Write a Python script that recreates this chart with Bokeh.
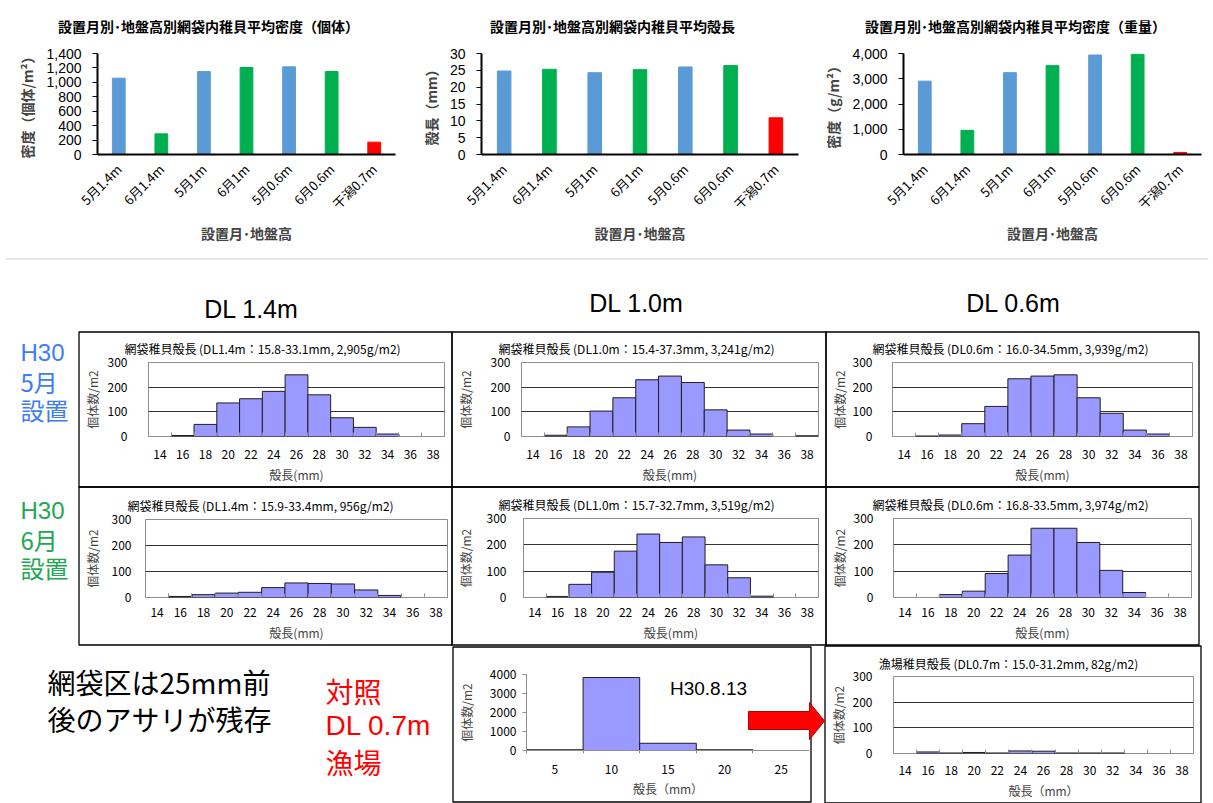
from math import pi

from bokeh.core.properties import value
from bokeh.embed import file_html
from bokeh.models import (ColumnDataSource, FactorRange, FixedTicker,
                          NumeralTickFormatter, Range1d)
from bokeh.plotting import figure
from bokeh.resources import INLINE

JP = "Noto Sans CJK JP"
LAT = "Liberation Sans"
PAGE_W, PAGE_H = 1213, 803

# ---------------------------------------------------------------- data
sites = ["5月1.4m", "6月1.4m", "5月1m", "6月1m", "5月0.6m", "6月0.6m", "干潟0.7m"]
site_colors = ["#5B9BD5", "#00B050", "#5B9BD5", "#00B050", "#5B9BD5", "#00B050", "#FF0000"]
density_count = [1058, 286, 1150, 1206, 1215, 1150, 171]        # 個体/m2
mean_length = [24.8, 25.3, 24.3, 25.2, 26.0, 26.4, 10.9]        # mm
density_weight = [2905, 956, 3241, 3519, 3939, 3974, 82]        # g/m2

# shell-length classes (2 mm bins) and counts per m2
size_classes = [14, 16, 18, 20, 22, 24, 26, 28, 30, 32, 34, 36, 38]
hist_may_14 = [0, 4, 49, 136, 153, 183, 250, 169, 76, 37, 10, 0, 0]
hist_may_10 = [0, 5, 39, 103, 157, 230, 245, 219, 108, 26, 10, 0, 3]
hist_may_06 = [0, 2, 6, 52, 122, 234, 245, 250, 157, 94, 26, 10, 0]
hist_jun_14 = [0, 4, 11, 17, 20, 38, 56, 54, 52, 29, 8, 0, 0]
hist_jun_10 = [0, 4, 50, 96, 176, 241, 209, 230, 124, 75, 5, 0, 0]
hist_jun_06 = [0, 0, 11, 24, 91, 161, 263, 263, 209, 103, 19, 0, 0]
hist_flat_07 = [0, 6, 2, 4, 2, 10, 9, 2, 2, 2, 0, 0, 0]

size_ranges = ["15.8-33.1", "15.4-37.3", "16.0-34.5", "15.9-33.4", "15.7-32.7", "16.8-33.5", "15.0-31.2"]

# fishing ground, 2018-08-13 (5 mm bins)
ground_classes = [5, 10, 15, 20, 25]
ground_counts = [40, 3840, 380, 40, 0]


def place(fig, left, top):
    fig.styles = {"position": "absolute", "left": f"{left}px", "top": f"{top}px"}
    return fig


# ---------------------------------------------------------------- page canvas
bg = figure(width=PAGE_W, height=PAGE_H, x_range=Range1d(0, PAGE_W), y_range=Range1d(PAGE_H, 0),
            x_axis_type=None, y_axis_type=None, output_backend="svg", toolbar_location=None,
            min_border=0, outline_line_color=None,
            background_fill_color="white", border_fill_color="white")
bg.grid.visible = False


def note(x, y, text, size, color="black", font=JP, align="left", style="normal"):
    bg.text(x=[x], y=[y], text=[text], text_font=value(font), text_font_size=size,
            text_color=color, text_align=align, text_baseline="middle", text_font_style=style)


# headings of the summary charts
note(208, 25, "設置月別･地盤高別網袋内稚貝平均密度（個体）", "14px", align="center", style="bold")
note(612, 25, "設置月別･地盤高別網袋内稚貝平均殻長", "14px", align="center", style="bold")
note(1015, 25, "設置月別･地盤高別網袋内稚貝平均密度（重量）", "14px", align="center", style="bold")

bg.line(x=[5, 1208], y=[258.5, 258.5], line_color="#d4d4d4", line_width=1)

note(251, 308, "DL 1.4m", "25px", font=LAT, align="center")
note(636, 302, "DL 1.0m", "25px", font=LAT, align="center")
note(1013, 302, "DL 0.6m", "25px", font=LAT, align="center")

BLUE, GREEN = "#3D7EF0", "#22A852"
note(20, 352, "H30", "24px", color=BLUE, font=LAT)
note(20, 381, "5月", "24px", color=BLUE)
note(20, 409, "設置", "24px", color=BLUE)
note(20, 510, "H30", "24px", color=GREEN, font=LAT)
note(20, 539, "6月", "24px", color=GREEN)
note(20, 567, "設置", "24px", color=GREEN)

note(47, 681, "網袋区は25mm前", "28px")
note(47, 718, "後のアサリが残存", "28px")
note(325, 690, "対照", "28px", color="#FF0000")
note(325, 725, "DL 0.7m", "28px", color="#FF0000", font=LAT)
note(325, 761, "漁場", "28px", color="#FF0000")

note(708, 688, "H30.8.13", "19px", font=LAT, align="center")

# panel frames
cells = [(78, 451, 331, 486), (451, 825, 331, 486), (825, 1198, 331, 486),
         (78, 451, 486, 644), (451, 825, 486, 644), (825, 1198, 486, 644),
         (452, 810, 646, 801), (824, 1200, 645, 802)]
bg.quad(left=[c[0] + 0.5 for c in cells], right=[c[1] + 0.5 for c in cells],
        top=[c[2] + 0.5 for c in cells], bottom=[c[3] + 0.5 for c in cells],
        fill_color=None, line_color="black", line_width=1.3)

# arrow pointing to the fishing-ground panel
bg.patch(x=[748, 809, 809, 824, 809, 809, 748], y=[711, 711, 702, 720.5, 739, 729, 729],
         fill_color="#FF0000", line_color="#B00000", line_width=1)

# ---------------------------------------------------------------- summary bar charts
def summary_chart(values, ymax, step, fmt, ylabel, fig_left, fig_w, frame_l, frame_r):
    h = 256
    p = figure(width=fig_w, height=h, x_range=FactorRange(factors=sites), y_range=Range1d(0, ymax),
               output_backend="svg", toolbar_location=None,
               min_border_left=frame_l - fig_left, min_border_right=fig_left + fig_w - frame_r,
               min_border_top=53, min_border_bottom=h - 154,
               background_fill_color=None, border_fill_color=None, outline_line_color=None)
    src = ColumnDataSource(dict(site=sites, v=values, color=site_colors))
    p.vbar(x="site", top="v", width=0.3, fill_color="color", line_color="color", source=src)
    p.grid.visible = False

    xa = p.xaxis[0]
    xa.axis_line_color = "black"
    xa.axis_line_width = 2
    xa.major_tick_line_color = None
    xa.minor_tick_line_color = None
    xa.major_label_orientation = pi / 4
    xa.major_label_text_font = JP
    xa.major_label_text_font_size = "13px"
    xa.major_label_text_color = "black"
    xa.major_label_standoff = 6
    xa.axis_label = "設置月･地盤高"
    xa.axis_label_text_font = JP
    xa.axis_label_text_font_size = "14px"
    xa.axis_label_text_font_style = "bold"
    xa.axis_label_standoff = 0

    ya = p.yaxis[0]
    ya.ticker = FixedTicker(ticks=list(range(0, ymax + 1, step)))
    ya.formatter = NumeralTickFormatter(format=fmt)
    ya.axis_line_color = "black"
    ya.axis_line_width = 2
    ya.major_tick_line_color = "black"
    ya.major_tick_out = 5
    ya.major_tick_in = 0
    ya.minor_tick_line_color = None
    ya.major_label_text_font = LAT
    ya.major_label_text_font_size = "14px"
    ya.major_label_text_color = "black"
    ya.major_label_standoff = 11
    ya.axis_label = ylabel
    ya.axis_label_text_font = JP
    ya.axis_label_text_font_size = "14px"
    ya.axis_label_text_font_style = "bold"
    ya.axis_label_standoff = 6
    return place(p, fig_left, 0)


top1 = summary_chart(density_count, 1400, 200, "0,0", "密度（個体/m²）", 0, 410, 97, 395)
top2 = summary_chart(mean_length, 30, 5, "0", "殻長（mm）", 410, 410, 481, 798)
top3 = summary_chart(density_weight, 4000, 1000, "0,0", "密度（g/m²）", 820, 393, 902, 1201)

# ---------------------------------------------------------------- size histograms
def size_hist(counts, frame, cell, ytick_gap, ylabel_x, xtick_standoff, xlabel="殻長(mm)"):
    fl, fr, ft, fb = frame
    cl, cr, ct, cb = cell
    left, top = cl + 2, ct + 2
    w, h = cr - cl - 3, cb - ct - 3
    p = figure(width=w, height=h, x_range=Range1d(13, 39), y_range=Range1d(0, 300),
               output_backend="svg", toolbar_location=None,
               min_border_left=fl - left, min_border_right=left + w - fr,
               min_border_top=ft - top, min_border_bottom=top + h - fb,
               background_fill_color=None, border_fill_color=None,
               outline_line_color="#8f8f8f", outline_line_width=1)
    shown = [(c, v) for c, v in zip(size_classes, counts) if v > 0]
    src = ColumnDataSource(dict(x=[s[0] for s in shown], top=[s[1] for s in shown]))
    p.vbar(x="x", top="top", bottom=0, width=2, source=src,
           fill_color="#9999FF", line_color="#1f1f1f", line_width=1)

    p.xgrid.visible = False
    p.ygrid.ticker = FixedTicker(ticks=[100, 200])
    p.ygrid.grid_line_color = "#333333"
    p.ygrid.grid_line_width = 1

    xa = p.xaxis[0]
    xa.ticker = FixedTicker(ticks=size_classes, minor_ticks=[c - 1 for c in size_classes] + [39])
    xa.axis_line_color = None
    xa.major_tick_line_color = None
    xa.minor_tick_line_color = "#8f8f8f"
    xa.minor_tick_in = 4
    xa.minor_tick_out = 0
    xa.major_label_text_font = JP
    xa.major_label_text_font_size = "12px"
    xa.major_label_text_color = "black"
    xa.major_label_standoff = xtick_standoff
    xa.axis_label = xlabel
    xa.axis_label_text_font = JP
    xa.axis_label_text_font_size = "12px"
    xa.axis_label_text_font_style = "normal"
    xa.axis_label_standoff = 4

    ya = p.yaxis[0]
    ya.ticker = FixedTicker(ticks=[0, 100, 200, 300])
    ya.axis_line_color = None
    ya.major_tick_line_color = None
    ya.minor_tick_line_color = None
    ya.major_label_text_font = JP
    ya.major_label_text_font_size = "12px"
    ya.major_label_text_color = "black"
    ya.major_label_standoff = ytick_gap
    ya.axis_label = "個体数/m2"
    ya.axis_label_text_font = JP
    ya.axis_label_text_font_size = "12px"
    ya.axis_label_text_font_style = "normal"
    ya.axis_label_standoff = max(0, (fl - ytick_gap - 21) - (ylabel_x + 7))
    return place(p, left, top)


hist_specs = [
    (hist_may_14, "網袋", "DL1.4m", 0, (142, 444, 362, 440), 0, 15, 95, 7, (262, 348)),
    (hist_may_10, "網袋", "DL1.0m", 2, (517, 818, 362, 440), 1, 5, 470, 7, (636, 348)),
    (hist_may_06, "網袋", "DL0.6m", 4, (889, 1192, 362, 440), 2, 14, 845, 7, (1010, 348)),
    (hist_jun_14, "網袋", "DL1.4m", 1, (141, 447, 519, 597), 3, 8, 97, 4, (260, 505)),
    (hist_jun_10, "網袋", "DL1.0m", 3, (517, 818, 518, 597), 4, 11, 468, 4, (636, 504)),
    (hist_jun_06, "網袋", "DL0.6m", 5, (890, 1191, 518, 597), 5, 14, 845, 4, (1010, 504)),
    (hist_flat_07, "漁場", "DL0.7m", 6, (888, 1193, 676, 755), 7, 15, 842, 6, (1008, 663)),
]

hists = []
for i, (counts, kind, level, wi, frame, ci, gap, lx, xs, tpos) in enumerate(hist_specs):
    xlabel = "殻長（mm）" if kind == "漁場" else "殻長(mm)"
    hists.append(size_hist(counts, frame, cells[ci], gap, lx, xs, xlabel))
    title = f"{kind}稚貝殻長 ({level}：{size_ranges[i]}mm, {density_weight[wi]:,}g/m2)"
    note(tpos[0], tpos[1], title, "12px", align="center")

# ---------------------------------------------------------------- fishing ground histogram
def ground_hist():
    fl, fr, ft, fb = 523, 809, 674, 758
    left, top = 454, 648
    w, h = 355, 151
    p = figure(width=w, height=h, x_range=Range1d(2.5, 27.5), y_range=Range1d(0, 4000),
               output_backend="svg", toolbar_location=None,
               min_border_left=fl - left, min_border_right=max(0, left + w - fr),
               min_border_top=ft - top, min_border_bottom=top + h - fb,
               background_fill_color=None, border_fill_color=None, outline_line_color=None)
    src = ColumnDataSource(dict(x=ground_classes, top=ground_counts))
    p.vbar(x="x", top="top", bottom=0, width=5, source=src,
           fill_color="#9999FF", line_color="#1f1f1f", line_width=1)
    p.grid.visible = False

    xa = p.xaxis[0]
    xa.ticker = FixedTicker(ticks=ground_classes,
                            minor_ticks=[c - 2.5 for c in ground_classes] + [27.5])
    xa.axis_line_color = "#8f8f8f"
    xa.major_tick_line_color = None
    xa.minor_tick_line_color = "#8f8f8f"
    xa.minor_tick_in = 0
    xa.minor_tick_out = 3
    xa.major_label_text_font = JP
    xa.major_label_text_font_size = "12px"
    xa.major_label_text_color = "black"
    xa.major_label_standoff = 8
    xa.axis_label = "殻長（mm）"
    xa.axis_label_text_font = JP
    xa.axis_label_text_font_size = "12px"
    xa.axis_label_text_font_style = "normal"
    xa.axis_label_standoff = 3

    ya = p.yaxis[0]
    ya.ticker = FixedTicker(ticks=[0, 1000, 2000, 3000, 4000])
    ya.axis_line_color = "#8f8f8f"
    ya.major_tick_line_color = "#8f8f8f"
    ya.major_tick_out = 4
    ya.major_tick_in = 0
    ya.minor_tick_line_color = None
    ya.major_label_text_font = JP
    ya.major_label_text_font_size = "12px"
    ya.major_label_text_color = "black"
    ya.major_label_standoff = 6
    ya.axis_label = "個体数/m2"
    ya.axis_label_text_font = JP
    ya.axis_label_text_font_size = "12px"
    ya.axis_label_text_font_style = "normal"
    ya.axis_label_standoff = 12
    return place(p, left, top)


ground = ground_hist()
place(bg, 0, 0)

# every panel is its own root so that no frame alignment is imposed between them
roots = [bg, top1, top2, top3, *hists, ground]
open("out.html", "w").write(file_html(roots, INLINE))
